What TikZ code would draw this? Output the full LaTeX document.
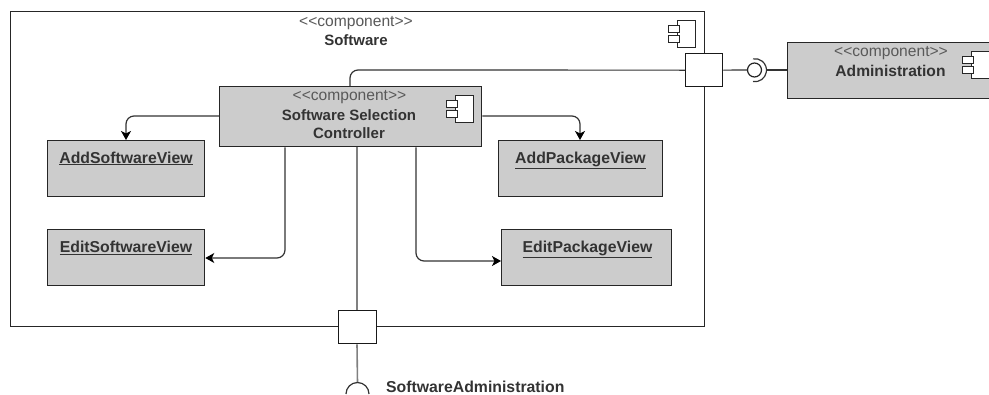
\documentclass[tikz,border=0pt]{standalone}
\usepackage{fontspec}
\setmainfont{Liberation Sans}[Ligatures=NoCommon]
\usetikzlibrary{arrows.meta}
\newcommand{\st}{{<}{<}component{>}{>}}
\tikzset{
  x=1pt,y=-1pt,
  line/.style={draw=black!80,line width=1.2pt},
  comp/.style={draw=black!85,fill=black!20,line width=1.3pt,anchor=north west,inner sep=0pt,rectangle},
  portbox/.style={draw=black!90,fill=white,line width=1.3pt,inner sep=0pt,rectangle},
  lbl/.style={text=black!65,font=\fontsize{15.6}{17}\selectfont,inner sep=0pt,align=center},
  blbl/.style={text=black!80,font=\fontsize{15}{18}\selectfont\bfseries,inner sep=0pt,align=center},
  vlbl/.style={text=black!80,font=\fontsize{15.8}{18}\selectfont\bfseries,inner sep=0pt,anchor=base},
  conn/.style={line,rounded corners=8pt},
  arr/.style={conn,-{Stealth[length=9pt,width=10pt,inset=2.5pt,color=black]}},
  icon/.pic={
    \draw[draw=black!85,line width=0.9pt,fill=white] (9,0) rectangle (27,27);
    \draw[draw=black!85,line width=0.9pt,fill=white] (0,5) rectangle (11,12);
    \draw[draw=black!85,line width=0.9pt,fill=white] (0,15) rectangle (11,22);
  }
}
\begin{document}
\begin{tikzpicture}
\path[use as bounding box,clip] (0,0) rectangle (989,394);
\node[draw=black!85,line width=1.2pt,fill=white,anchor=north west,minimum width=694pt,minimum height=315pt,inner sep=0pt] (soft) at (10,11) {};
\node[lbl] (softs) at (356,23.5) {\st};
\node[blbl] (softn) at (356,40) {Software};
\pic at (668,20) {icon};

\node[portbox,anchor=north west,minimum width=37pt,minimum height=33pt] (pr) at (685,53) {};
\node[portbox,anchor=north west,minimum width=38pt,minimum height=33pt] (pb) at (338,310) {};

\node[comp,minimum width=262pt,minimum height=60pt] (ctl) at (219,86) {};
\node[lbl] (ctls) at (349.5,97.5) {\st};
\node[blbl] (ctln) at (349,124) {Software Selection\\Controller};
\pic at (446,95) {icon};

\node[comp,minimum width=157pt,minimum height=56pt] (asv) at (47,140) {};
\node[comp,minimum width=157pt,minimum height=56pt] (esv) at (47,229) {};
\node[comp,minimum width=164pt,minimum height=56pt] (apv) at (498,140) {};
\node[comp,minimum width=170pt,minimum height=56pt] (epv) at (501,229) {};
\node[vlbl] (asvt) at (126,163) {\underline{AddSoftwareView}};
\node[vlbl] (esvt) at (126,252.5) {\underline{EditSoftwareView}};
\node[vlbl] (apvt) at (580.5,163) {\underline{AddPackageView}};
\node[vlbl] (epvt) at (587.5,252.5) {\underline{EditPackageView}};

\node[comp,minimum width=215pt,minimum height=56pt] (adm) at (787,42) {};
\node[lbl] (adms) at (891,53.5) {\st};
\node[blbl,font=\fontsize{15.6}{18}\selectfont\bfseries] (admn) at (890.5,71) {Administration};
\pic at (962,51) {icon};

% connectors
\coordinate (ltop) at (350,86);
\draw[conn] (ctl.north -| ltop) -- (350,70) -- (pr.west);
\draw[arr] (ctl.west |- 0,116) -- (126,116) -- (asv.north -| 126,0);
\draw[arr] (ctl.east |- 0,116) -- (580,116) -- (apv.north -| 580,0);
\draw[arr] (ctl.south -| 285,0) -- (285,258) -- (esv.east |- 0,258);
\draw[arr] (ctl.south -| 416,0) -- (416,261) -- (epv.west |- 0,261);
\draw[draw=black!50,line width=1.6pt] (ctl.south -| 357,0) -- (pb.north -| 357,0);

% provided / required interface, right
\node[circle,draw=black!85,line width=1.2pt,fill=white,minimum size=14pt,inner sep=0pt] (ball) at (754.5,70) {};
\draw[line] (pr.east) -- (ball.west);
\coordinate (sockr) at (767,70);
\draw[line] (sockr) -- (adm.west |- sockr);
\draw[line] (753,81.5) arc[start angle=-100,end angle=100,radius=11.5pt];

% required interface, bottom
\coordinate (sock) at (357.5,383);
\draw[draw=black!50,line width=1.6pt] (pb.south -| 357,0) -- (sock);
\draw[line] (346,394) arc[start angle=180,end angle=0,radius=11.5pt];
\node[vlbl,anchor=base west] (sa) at (386,392.5) {SoftwareAdministration};
\end{tikzpicture}
\end{document}
